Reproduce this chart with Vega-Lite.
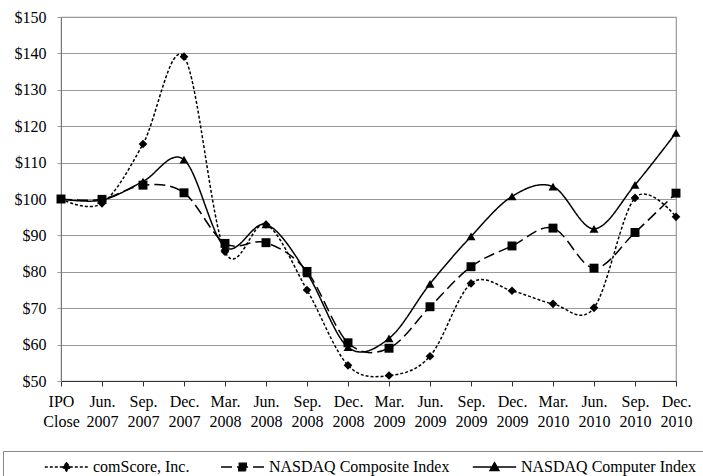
{
  "$schema": "https://vega.github.io/schema/vega-lite/v6.json",
  "width": 615,
  "height": 364,
  "autosize": {"type": "none"},
  "padding": {"left": 61, "top": 17, "right": 27, "bottom": 95},
  "background": "white",
  "config": {"font": "Liberation Serif", "view": {"stroke": "#999", "strokeWidth": 1.2}},
  "data": {"values": [
    {"period": "IPO Close", "series": "comScore, Inc.", "value": 100},
    {"period": "Jun. 2007", "series": "comScore, Inc.", "value": 98.8},
    {"period": "Sep. 2007", "series": "comScore, Inc.", "value": 115.1},
    {"period": "Dec. 2007", "series": "comScore, Inc.", "value": 139.1},
    {"period": "Mar. 2008", "series": "comScore, Inc.", "value": 85.5},
    {"period": "Jun. 2008", "series": "comScore, Inc.", "value": 93},
    {"period": "Sep. 2008", "series": "comScore, Inc.", "value": 75},
    {"period": "Dec. 2008", "series": "comScore, Inc.", "value": 54.3},
    {"period": "Mar. 2009", "series": "comScore, Inc.", "value": 51.5},
    {"period": "Jun. 2009", "series": "comScore, Inc.", "value": 56.8},
    {"period": "Sep. 2009", "series": "comScore, Inc.", "value": 76.8},
    {"period": "Dec. 2009", "series": "comScore, Inc.", "value": 74.8},
    {"period": "Mar. 2010", "series": "comScore, Inc.", "value": 71.2},
    {"period": "Jun. 2010", "series": "comScore, Inc.", "value": 70.1},
    {"period": "Sep. 2010", "series": "comScore, Inc.", "value": 100.3},
    {"period": "Dec. 2010", "series": "comScore, Inc.", "value": 95.1},
    {"period": "IPO Close", "series": "NASDAQ Composite Index", "value": 100},
    {"period": "Jun. 2007", "series": "NASDAQ Composite Index", "value": 99.9},
    {"period": "Sep. 2007", "series": "NASDAQ Composite Index", "value": 103.8},
    {"period": "Dec. 2007", "series": "NASDAQ Composite Index", "value": 101.7},
    {"period": "Mar. 2008", "series": "NASDAQ Composite Index", "value": 87.8},
    {"period": "Jun. 2008", "series": "NASDAQ Composite Index", "value": 88},
    {"period": "Sep. 2008", "series": "NASDAQ Composite Index", "value": 80.1},
    {"period": "Dec. 2008", "series": "NASDAQ Composite Index", "value": 60.5},
    {"period": "Mar. 2009", "series": "NASDAQ Composite Index", "value": 59},
    {"period": "Jun. 2009", "series": "NASDAQ Composite Index", "value": 70.4},
    {"period": "Sep. 2009", "series": "NASDAQ Composite Index", "value": 81.4},
    {"period": "Dec. 2009", "series": "NASDAQ Composite Index", "value": 87.1},
    {"period": "Mar. 2010", "series": "NASDAQ Composite Index", "value": 92},
    {"period": "Jun. 2010", "series": "NASDAQ Composite Index", "value": 81},
    {"period": "Sep. 2010", "series": "NASDAQ Composite Index", "value": 90.8},
    {"period": "Dec. 2010", "series": "NASDAQ Composite Index", "value": 101.6},
    {"period": "IPO Close", "series": "NASDAQ Computer Index", "value": 100},
    {"period": "Jun. 2007", "series": "NASDAQ Computer Index", "value": 99.7},
    {"period": "Sep. 2007", "series": "NASDAQ Computer Index", "value": 104.8},
    {"period": "Dec. 2007", "series": "NASDAQ Computer Index", "value": 110.8},
    {"period": "Mar. 2008", "series": "NASDAQ Computer Index", "value": 86.8},
    {"period": "Jun. 2008", "series": "NASDAQ Computer Index", "value": 93},
    {"period": "Sep. 2008", "series": "NASDAQ Computer Index", "value": 79.6},
    {"period": "Dec. 2008", "series": "NASDAQ Computer Index", "value": 59.3},
    {"period": "Mar. 2009", "series": "NASDAQ Computer Index", "value": 61.7},
    {"period": "Jun. 2009", "series": "NASDAQ Computer Index", "value": 76.7},
    {"period": "Sep. 2009", "series": "NASDAQ Computer Index", "value": 89.7},
    {"period": "Dec. 2009", "series": "NASDAQ Computer Index", "value": 100.7},
    {"period": "Mar. 2010", "series": "NASDAQ Computer Index", "value": 103.4},
    {"period": "Jun. 2010", "series": "NASDAQ Computer Index", "value": 91.8},
    {"period": "Sep. 2010", "series": "NASDAQ Computer Index", "value": 103.9},
    {"period": "Dec. 2010", "series": "NASDAQ Computer Index", "value": 118.2}
  ]},
  "encoding": {
    "x": {
      "field": "period", "type": "ordinal", "sort": null,
      "scale": {"type": "point", "padding": 0},
      "axis": {
        "title": null, "labelAngle": 0, "labelExpr": "split(datum.label, ' ')",
        "labelFontSize": 16, "labelColor": "black", "labelLineHeight": 20,
        "labelPadding": 7, "labelBaseline": "top", "tickSize": 5, "tickColor": "#333",
        "domainColor": "#333", "grid": false
      }
    },
    "y": {
      "field": "value", "type": "quantitative",
      "scale": {"domain": [50, 150], "nice": false, "zero": false},
      "axis": {
        "title": null, "values": [50, 60, 70, 80, 90, 100, 110, 120, 130, 140, 150],
        "labelExpr": "'$' + datum.value", "labelFontSize": 16, "labelColor": "black",
        "labelPadding": 11, "tickSize": 4, "tickColor": "#999", "gridColor": "#999",
        "gridWidth": 1.2, "domainColor": "#777"
      }
    }
  },
  "layer": [
    {
      "mark": {"type": "line", "interpolate": "cardinal", "color": "black", "strokeWidth": 1.5},
      "encoding": {
        "strokeDash": {
          "field": "series", "type": "nominal",
          "scale": {
            "domain": ["comScore, Inc.", "NASDAQ Composite Index", "NASDAQ Computer Index"],
            "range": [[3, 2], [11, 5], [1, 0]]
          },
          "legend": {
            "title": " ", "titleOrient": "left", "titlePadding": 33,
            "orient": "none", "legendX": -58, "legendY": 434, "direction": "horizontal",
            "strokeColor": "#888", "padding": 8, "labelFontSize": 16, "labelLimit": 400,
            "labelFont": "Liberation Serif", "labelColor": "black", "symbolSize": 196,
            "symbolStrokeWidth": 1.3, "symbolStrokeColor": "black", "columnPadding": 20,
            "symbolOffset": 14.5, "labelOffset": 18.5,
            "encode": {
              "symbols": {
                "update": {
                  "shape": {"signal": "datum.value === 'comScore, Inc.' ? 'M-3.1,0L3.1,0M0,-0.6L0.55,0L0,0.6L-0.55,0Z' : datum.value === 'NASDAQ Composite Index' ? 'M-1.64,0L4.5,0M0.88,-0.55L1.98,-0.55L1.98,0.55L0.88,0.55Z' : 'M-3.1,0L3.1,0M0,-0.65L0.65,0.5L-0.65,0.5Z'"},
                  "fill": {"value": "black"},
                  "fillOpacity": {"value": 1},
                  "stroke": {"value": "black"}
                }
              },
              "labels": {
                "update": {
                  "dx": {"signal": "datum.value === 'NASDAQ Composite Index' ? 10 : 0"}
                }
              }
            }
          }
        }
      }
    },
    {
      "transform": [{"filter": "datum.series === 'comScore, Inc.'"}],
      "mark": {"type": "point", "shape": "diamond", "filled": true, "color": "black", "size": 75, "opacity": 1}
    },
    {
      "transform": [{"filter": "datum.series === 'NASDAQ Composite Index'"}],
      "mark": {"type": "point", "shape": "square", "filled": true, "color": "black", "size": 80, "opacity": 1}
    },
    {
      "transform": [{"filter": "datum.series === 'NASDAQ Computer Index'"}],
      "mark": {"type": "point", "shape": "triangle-up", "filled": true, "color": "black", "size": 80, "opacity": 1}
    }
  ]
}
